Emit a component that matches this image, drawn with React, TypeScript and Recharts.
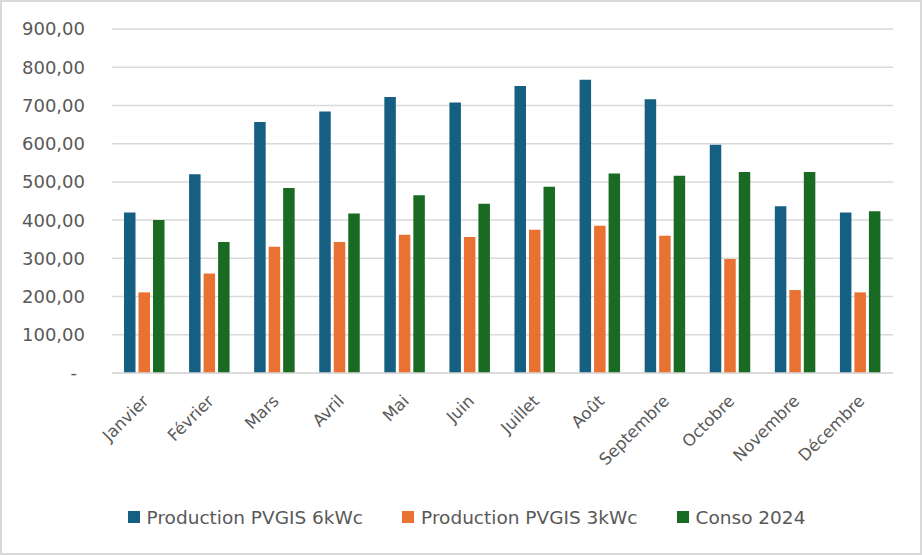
import React from "react";
import { BarChart, Bar, XAxis, YAxis, CartesianGrid, Legend } from "recharts";

const months = ["Janvier", "Février", "Mars", "Avril", "Mai", "Juin", "Juillet", "Août", "Septembre", "Octobre", "Novembre", "Décembre"];
const prod6 = [420, 520, 657, 684, 722, 708, 751, 767, 716, 597, 436, 420];
const prod3 = [211, 260, 330, 343, 362, 356, 375, 385, 359, 298, 217, 211];
const conso = [400, 343, 484, 417, 465, 443, 487, 522, 516, 526, 526, 423];
const yTicks = [0, 100, 200, 300, 400, 500, 600, 700, 800, 900];

const seriesNames = ["Production PVGIS 6kWc", "Production PVGIS 3kWc", "Conso 2024"];
const seriesColors = ["#156082", "#E97132", "#196B24"];

const data = months.map((m, i) => ({ month: m, p6: prod6[i], p3: prod3[i], c: conso[i] }));

const FONT = "'DejaVu Sans', 'Open Sans', sans-serif";
const TEXT = "#595959";

const fmt = (v: number) => (v === 0 ? "-" : v.toFixed(2).replace(".", ","));

const YTick = (props: any) => {
  const { x, y, payload } = props;
  const zero = payload.value === 0;
  return (
    <text x={zero ? x - 8 : x} y={y} dy="0.36em" textAnchor="end" fill={TEXT} fontSize={18} fontFamily={FONT}>
      {fmt(payload.value)}
    </text>
  );
};

const XTick = (props: any) => {
  const { x, y, payload } = props;
  return (
    <g transform={`translate(${x + 1},${y + 25})`}>
      <text textAnchor="end" transform="rotate(-45)" dy="0.35em" fill={TEXT} fontSize={16.5} fontFamily={FONT}>
        {payload.value}
      </text>
    </g>
  );
};

const LegendContent = () => (
  <div style={{ display: "flex", justifyContent: "center", alignItems: "center", height: 24, paddingLeft: 26, fontFamily: FONT, fontSize: 18.5, color: TEXT, whiteSpace: "nowrap" }}>
    {seriesNames.map((n, i) => (
      <div key={n} style={{ display: "flex", alignItems: "center", marginRight: i < 2 ? 39 : 0 }}>
        <div style={{ width: 12, height: 12, background: seriesColors[i], marginRight: 7 }} />
        <span>{n}</span>
      </div>
    ))}
  </div>
);

export default function App() {
  return (
    <div style={{ position: "absolute", left: 0, top: 0, width: 922, height: 555, boxSizing: "border-box", border: "2px solid #d9d9d9", background: "#fff" }}>
      <BarChart width={918} height={551} data={data} margin={{ top: 27, right: 27, left: 12, bottom: 24 }} barSize={11.5} barGap={3}>
        <CartesianGrid vertical={false} stroke="#d9d9d9" strokeWidth={1.5} />
        <XAxis dataKey="month" axisLine={{ stroke: "#d9d9d9", strokeWidth: 1.5 }} tickLine={false} tickSize={0} tickMargin={0} height={132} interval={0} tick={<XTick />} />
        <YAxis domain={[0, 900]} ticks={yTicks} axisLine={false} tickLine={false} tickSize={0} tickMargin={27} width={98} tick={<YTick />} />
        <Legend verticalAlign="bottom" height={24} content={<LegendContent />} />
        <Bar dataKey="p6" name={seriesNames[0]} fill={seriesColors[0]} isAnimationActive={false} />
        <Bar dataKey="p3" name={seriesNames[1]} fill={seriesColors[1]} isAnimationActive={false} />
        <Bar dataKey="c" name={seriesNames[2]} fill={seriesColors[2]} isAnimationActive={false} />
      </BarChart>
    </div>
  );
}
